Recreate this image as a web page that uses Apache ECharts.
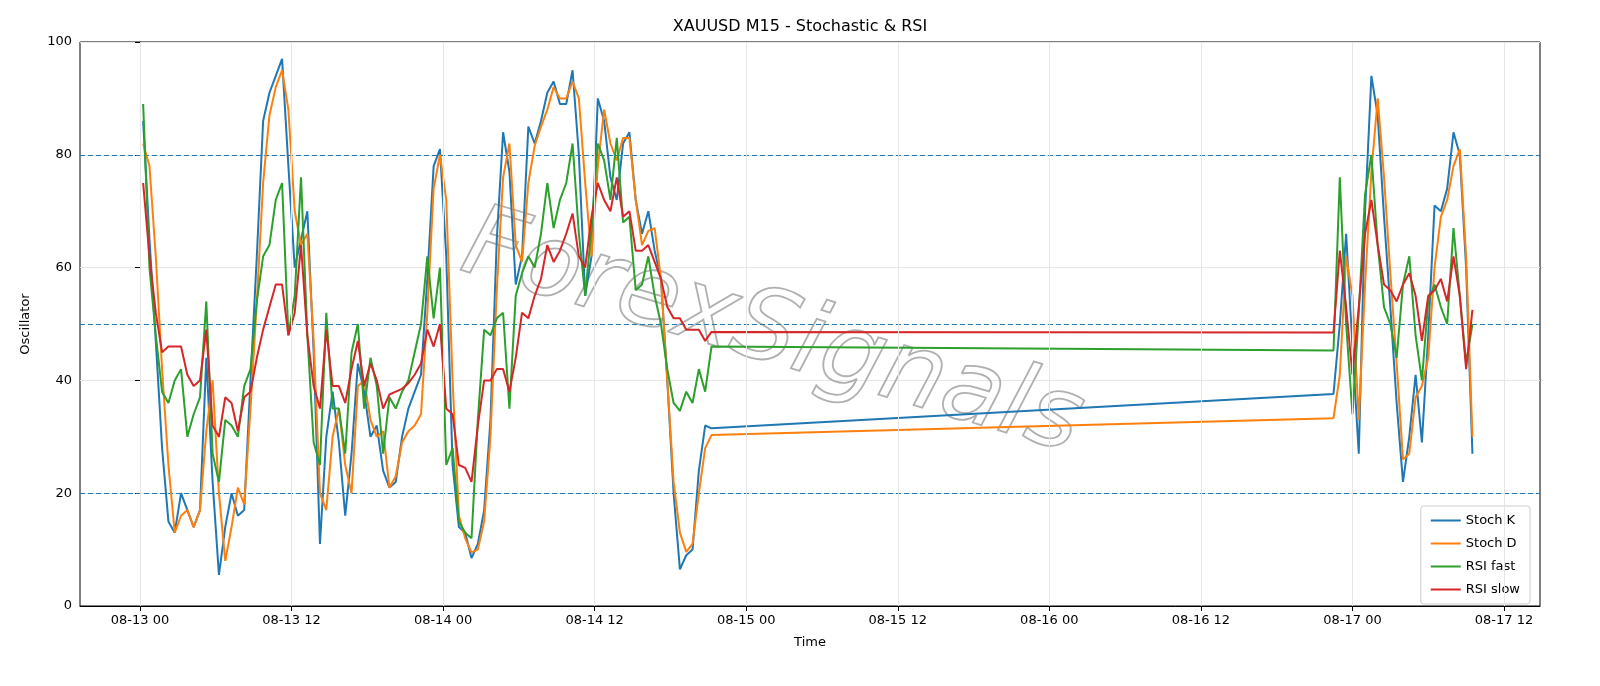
<!DOCTYPE html>
<html>
<head>
<meta charset="utf-8">
<script src="https://cdn.jsdelivr.net/npm/echarts@6/dist/echarts.min.js"></script>
<style>
  html, body { margin: 0; padding: 0; background: #fff; }
  #chart { width: 1600px; height: 686px; }
</style>
</head>
<body>
<div id="chart"></div>
<script>
// hours since 08-13 00:00, 30 min bars (sampled)
const seg1Start = 0.25
const seg2Start = 94.5
const step = 0.5

const stochK1 = [86,65,47,28,15,13,20,17,14,17,44,22,5.5,14,20,16,17,40,62,86,91,94,97,78,60,
  65,70,45,11,30,38,29,16,27,43,38,30,32,24,21,22,30,35,38,41,58,78,81,
  62,25,14,13,8.5,11,17,33,65,84,77,57,62,85,82,86,91,93,89,89,95,80,55,
  62,90,86,76,72,82,84,72,66,70,63,58,40,20,6.5,9,10,24,32,31.5]
const stochD1 = [82,78,62,42,25,13,16,17,14,17,31,40,20,8,14,21,18,35,54,75,87,92,95,88,70,
  64,66,47,20,17,30,35,25,20,39,40,33,30,31,21,23,29,31,32,34,52,74,80,
  72,40,16,12,9.5,10,15,30,56,76,82,64,61,75,81.6,85,88,92,90,90,93,90,75,
  62,78,88,82,79,83,83,72,64,66.5,67,58,40,22,13,9.6,11,20,28,30.3]
const rsiFast1 = [89,60,48,38,36,40,42,30,34,37,54,27,22,33,32,30,39,42,54,62,64,72,75,48,55,
  76,48,29,25,52,35,35,27,45,50,35,44,39,27,37,35,38,40,45,50,62,51,60,
  25,28,15,13,12,33,49,48,51,52,35,55,59,62,60,66,75,67,72,75,82,66,55,
  67,82,79,72,83,68,69,56,57,62,55,50,42,36,34.6,38,36,42,38,46]
const rsiSlow1 = [75,62,52,45,46,46,46,41,39,40,49,32,30,37,36,31,37,38,44,49,53,57,57,48,52,
  64,48,39,35,49,39,39,36,42,47,39,43,40,35,37.5,38,38.5,39.5,41,43,49,46,50,
  35,34,25,24.5,22,32,40,40,42,42,38,44,52,51,55,58,64,61,63,66,69.6,62,60,
  69,75,72,70,76,69,70,63,63,64,61,58,53,51,51,49,49,49,47,48.6]

const stochK2 = [37.6,50,66,46,27,70,94,87,69,53,36,22,30,41,29,48,71,70,74,84,80,60,27]
const stochD2 = [33.3,41,62,55,33,57,77,90,76,59,43,26,27,37,39,44,60,69,72,78,81,62,30]
const rsiFast2 = [45.3,76,50,34,52,73,80,64,53,50,44,57,62,48,40,54,57,53,50,67,55,43,50]
const rsiSlow2 = [48.5,63,53,41,53,66,72,64,57,56,54,57,59,55,47,55,56,58,54,62,55,42,52.5]

const xTicks = [0,12,24,36,48,60,72,84,96,108]
const levels = [20, 50, 80]

const toPairs = (a, b) => [
  ...a.map((v, i) => [seg1Start + i * step, v]),
  ...b.map((v, i) => [seg2Start + i * step, v])
]
const fmtHour = h => {
  const d = 13 + Math.floor(h / 24)
  const hh = h % 24
  return '08-' + d + ' ' + (hh < 10 ? '0' + hh : hh)
}

const chart = echarts.init(document.getElementById('chart'))
const font = 'DejaVu Sans'
const mkLine = (name, color, a, b, extra) => Object.assign({
  name, type: 'line', data: toPairs(a, b), showSymbol: false, symbol: 'none',
  lineStyle: { color, width: 2 }, itemStyle: { color }, z: 3
}, extra || {})

chart.setOption({
  animation: false,
  textStyle: { fontFamily: font },
  title: {
    text: 'XAUUSD M15 - Stochastic & RSI', left: 'center', top: 14,
    textStyle: { fontFamily: font, fontSize: 16, fontWeight: 'normal', color: '#000' }
  },
  graphic: [{
    type: 'text', left: 450, top: 195, rotation: -0.29, z: 1, silent: true,
    style: {
      text: 'ForexSignals', font: 'italic 100px "DejaVu Sans"',
      fill: 'rgba(255,255,255,0)', stroke: '#b0b0b0', lineWidth: 1.8
    }
  }],
  legend: {
    orient: 'vertical', right: 70, top: 506, padding: [8, 10, 8, 10],
    borderColor: '#cccccc', borderWidth: 1, borderRadius: 3, backgroundColor: '#fff',
    itemWidth: 30, itemHeight: 2, itemGap: 10, icon: 'rect',
    textStyle: { fontFamily: font, fontSize: 13, color: '#000' },
    data: ['Stoch K', 'Stoch D', 'RSI fast', 'RSI slow']
  },
  grid: { left: 80, right: 60, top: 42, bottom: 80, show: true, borderColor: '#000', borderWidth: 1 },
  xAxis: {
    type: 'value', min: -4.75, max: 110.85,
    name: 'Time', nameLocation: 'middle', nameGap: 30,
    nameTextStyle: { fontFamily: font, fontSize: 13, color: '#000' },
    axisLine: { lineStyle: { color: '#000' } },
    axisTick: { customValues: xTicks, length: 5, lineStyle: { color: '#000' } },
    axisLabel: { customValues: xTicks, formatter: v => fmtHour(v), fontSize: 13, color: '#000', margin: 8 },
    splitLine: { show: false }
  },
  yAxis: {
    type: 'value', min: 0, max: 100, interval: 20,
    name: 'Oscillator', nameLocation: 'middle', nameGap: 48,
    nameTextStyle: { fontFamily: font, fontSize: 13, color: '#000' },
    axisLine: { show: true, lineStyle: { color: '#000' } },
    axisTick: { show: true, length: 5, lineStyle: { color: '#000' } },
    axisLabel: { fontSize: 13, color: '#000' },
    splitLine: { lineStyle: { color: '#e6e6e6', width: 1 } }
  },
  series: [
    {
      type: 'line', data: [], silent: true, z: 1,
      markLine: {
        silent: true, symbol: 'none', label: { show: false },
        lineStyle: { color: '#e6e6e6', type: 'solid', width: 1 },
        data: xTicks.map(t => ({ xAxis: t }))
      }
    },
    mkLine('Stoch K', '#1f77b4', stochK1, stochK2, {
      markLine: {
        silent: true, symbol: 'none', label: { show: false }, z: 2,
        lineStyle: { color: '#1f77b4', type: [5, 3], width: 1.2 },
        data: levels.map(v => ({ yAxis: v }))
      }
    }),
    mkLine('Stoch D', '#ff7f0e', stochD1, stochD2),
    mkLine('RSI fast', '#2ca02c', rsiFast1, rsiFast2),
    mkLine('RSI slow', '#d62728', rsiSlow1, rsiSlow2)
  ]
})
</script>
</body>
</html>
